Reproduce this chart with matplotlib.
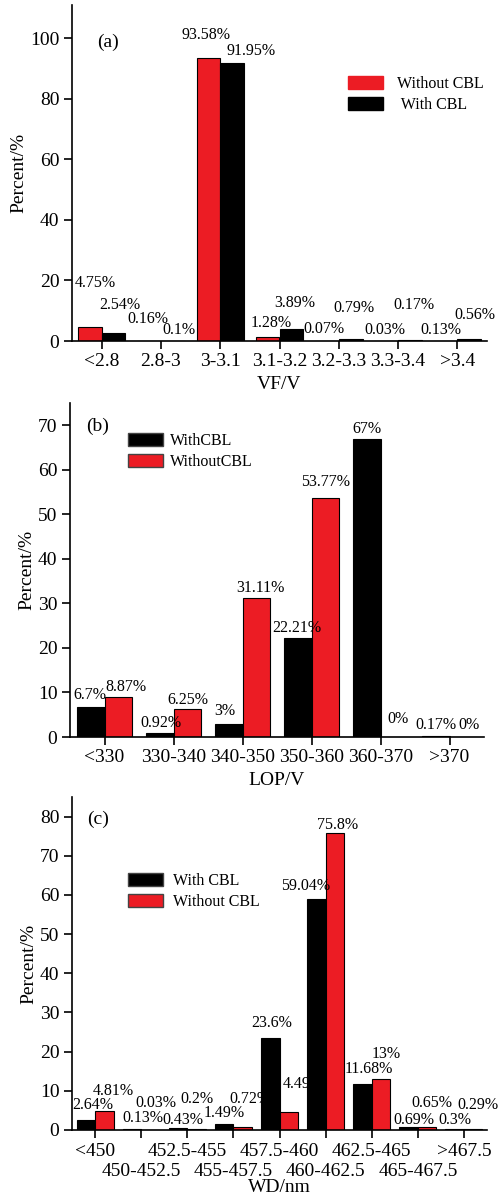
import matplotlib
matplotlib.use("Agg")
import matplotlib.pyplot as plt
from matplotlib.patches import Patch

# ---- data ----
vf_cats = ['<2.8', '2.8-3', '3-3.1', '3.1-3.2', '3.2-3.3', '3.3-3.4', '>3.4']
vf_without = [4.75, 0.16, 93.58, 1.28, 0.07, 0.03, 0.13]
vf_with = [2.54, 0.1, 91.95, 3.89, 0.79, 0.17, 0.56]

lop_cats = ['<330', '330-340', '340-350', '350-360', '360-370', '>370']
lop_with = [6.7, 0.92, 3, 22.21, 67, 0.17]
lop_without = [8.87, 6.25, 31.11, 53.77, 0, 0]

wd_cats = ['<450', '450-452.5', '452.5-455', '455-457.5', '457.5-460',
           '460-462.5', '462.5-465', '465-467.5', '>467.5']
wd_with = [2.64, 0.13, 0.43, 1.49, 23.6, 59.04, 11.68, 0.69, 0.3]
wd_without = [4.81, 0.03, 0.2, 0.72, 4.49, 75.8, 13, 0.65, 0.29]

# ---- label placement (hand placed in the original), (dx from group, y) ----
vf_lab_left = [(-0.11, 19.1), (-0.22, 7.2), (-0.24, 101.1), (-0.145, 5.9),
               (-0.25, 4.1), (-0.22, 3.5), (-0.28, 3.5)]
vf_lab_right = [(0.30, 12.0), (0.30, 3.5), (0.52, 95.9), (0.26, 12.5),
                (0.25, 11.0), (0.26, 11.8), (0.30, 8.5)]
lop_lab_left = [(-0.21, 9.4), (-0.18, 3.2), (-0.26, 5.8), (-0.22, 24.4),
                (-0.20, 69.1), (-0.19, 2.6)]
lop_lab_right = [(0.31, 11.3), (0.21, 8.4), (0.26, 33.4), (0.20, 57.2),
                 (0.25, 4.0), (0.28, 2.6)]
wd_lab_left = [(-0.06, 6.4), (0.04, 3.0), (-0.085, 2.5), (-0.21, 4.3),
               (-0.17, 27.4), (-0.44, 62.2), (-0.07, 15.5), (-0.09, 2.5),
               (-0.19, 2.5)]
wd_lab_right = [(0.40, 10.0), (0.32, 7.0), (0.20, 7.8), (0.35, 7.8),
                (0.51, 11.7), (0.27, 77.9), (0.32, 19.4), (0.30, 7.0),
                (0.30, 6.3)]

RED = '#ec1c24'
BLACK = '#000000'
W = 0.4
FS_TICK = 14
FS_LAB = 11.5

plt.rcParams['font.family'] = ['Liberation Serif', 'DejaVu Serif']

fig = plt.figure(figsize=(5.0, 12.02), dpi=100)
FW, FH = 500.0, 1202.0


def make_ax(left, right, top, bottom):
    return fig.add_axes([left / FW, 1 - bottom / FH,
                         (right - left) / FW, (bottom - top) / FH])


def fmt(v):
    return ('%g' % v) + '%'


def panel(ax, cats, left_vals, right_vals, left_col, right_col,
          lab_l, lab_r, ylim, yticks, tag, tag_pos, xlabel, xlabelpad):
    n = len(cats)
    for i in range(n):
        z = 2 + 2 * i
        ax.bar(i - W / 2, left_vals[i], W, color=left_col, edgecolor='black',
               linewidth=0.8, zorder=z)
        ax.bar(i + W / 2, right_vals[i], W, color=right_col, edgecolor='black',
               linewidth=0.8, zorder=z)
        ax.text(i + lab_l[i][0], lab_l[i][1], fmt(left_vals[i]), ha='center',
                va='center', fontsize=FS_LAB, zorder=z + 1, clip_on=False)
        ax.text(i + lab_r[i][0], lab_r[i][1], fmt(right_vals[i]), ha='center',
                va='center', fontsize=FS_LAB, zorder=z + 1, clip_on=False)
    ax.set_xlim(-0.5, n - 0.5)
    ax.set_ylim(*ylim)
    ax.set_yticks(yticks)
    ax.spines['top'].set_visible(False)
    ax.spines['right'].set_visible(False)
    for s in ('left', 'bottom'):
        ax.spines[s].set_linewidth(1.2)
        ax.spines[s].set_zorder(50)
    ax.tick_params(which='both', direction='out', length=6, width=1.2,
                   labelsize=FS_TICK, pad=3)
    ax.set_ylabel('Percent/%', fontsize=FS_TICK, labelpad=2)
    ax.set_xlabel(xlabel, fontsize=FS_TICK, labelpad=xlabelpad)
    ax.text(tag_pos[0], tag_pos[1], tag, fontsize=FS_TICK, ha='center',
            va='center')


# (a)
ax1 = make_ax(72, 487, 5, 341)
panel(ax1, vf_cats, vf_without, vf_with, RED, BLACK, vf_lab_left,
      vf_lab_right, (0, 111), range(0, 101, 20), '(a)', (0.1, 98.7), 'VF/V', 4)
ax1.set_xticks(range(len(vf_cats)))
ax1.set_xticklabels(vf_cats)
ax1.legend(handles=[Patch(facecolor=RED, edgecolor=RED, label='Without CBL'),
                    Patch(facecolor=BLACK, edgecolor=BLACK, label=' With CBL')],
           loc='upper left', bbox_to_anchor=(348 / FW, 1 - 76 / FH),
           bbox_transform=fig.transFigure, frameon=False, fontsize=FS_LAB,
           handlelength=2.2, handleheight=0.85, handletextpad=0.85,
           labelspacing=0.3, borderpad=0, borderaxespad=0)

# (b)
ax2 = make_ax(70, 484, 403, 737)
panel(ax2, lop_cats, lop_with, lop_without, BLACK, RED, lop_lab_left,
      lop_lab_right, (0, 75), range(0, 71, 10), '(b)', (-0.1, 69.8), 'LOP/V', 4)
ax2.set_xticks(range(len(lop_cats)))
ax2.set_xticklabels(lop_cats)
ax2.legend(handles=[Patch(facecolor=BLACK, edgecolor='#444444', label='WithCBL'),
                    Patch(facecolor=RED, edgecolor='#444444', label='WithoutCBL')],
           loc='upper left', bbox_to_anchor=(128 / FW, 1 - 433 / FH),
           bbox_transform=fig.transFigure, frameon=False, fontsize=FS_LAB,
           handlelength=2.2, handleheight=0.85, handletextpad=0.4,
           labelspacing=0.3, borderpad=0, borderaxespad=0)

# (c) - labels staggered on two rows
ax3 = make_ax(72, 487, 797, 1130)
panel(ax3, wd_cats, wd_with, wd_without, BLACK, RED, wd_lab_left,
      wd_lab_right, (0, 85), range(0, 81, 10), '(c)', (0.07, 79.4), 'WD/nm', -1)
even = list(range(0, len(wd_cats), 2))
odd = list(range(1, len(wd_cats), 2))
ax3.set_xticks(even)
ax3.set_xticklabels([wd_cats[i] for i in even])
ax3.set_xticks(odd, minor=True)
ax3.set_xticklabels([wd_cats[i] for i in odd], minor=True)
ax3.tick_params(axis='x', which='minor', pad=18)
ax3.legend(handles=[Patch(facecolor=BLACK, edgecolor='#444444', label='With CBL'),
                    Patch(facecolor=RED, edgecolor='#444444', label='Without CBL')],
           loc='upper left', bbox_to_anchor=(128 / FW, 1 - 873 / FH),
           bbox_transform=fig.transFigure, frameon=False, fontsize=FS_LAB,
           handlelength=2.2, handleheight=0.85, handletextpad=0.6,
           labelspacing=0.3, borderpad=0, borderaxespad=0)

fig.savefig('out.png', dpi=100)
